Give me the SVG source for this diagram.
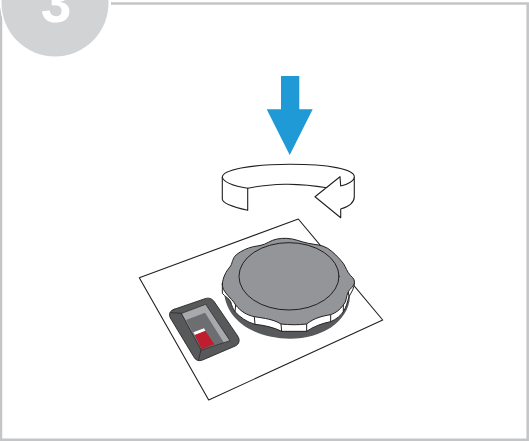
<svg xmlns="http://www.w3.org/2000/svg" width="529" height="441" viewBox="0 0 529 441">
<style>
.l{stroke:#231f20;stroke-linejoin:round;stroke-linecap:round}
.frame{stroke:#c4c5c7;fill:none}
</style>
<rect width="529" height="441" fill="#fff"/>
<g id="frame">
<path class="frame" stroke-width="2.5" d="M1 8V439.7H527.7V3.5H111"/>
</g>
<g id="step-badge">
<circle cx="55" cy="3" r="55" fill="#fff"/>
<circle cx="55" cy="3" r="53.5" fill="#d1d3d4"/>
<text x="56" y="22" text-anchor="middle" font-family="Liberation Sans, Arial, sans-serif" font-weight="700" font-size="55" fill="#fff">3</text>
</g>
<g id="press-arrow">
<path fill="#1f9ad6" d="M281 76H299.3V109.3H312.7L289.7 155L266.7 109.3H281Z"/>
</g>
<g id="turn-arrow">
<path class="l" fill="#fff" stroke-width="1.1" d="M222.3 177.3C222.3 170 250 164.3 290 164.3C328 164.3 354.3 169 354.3 176.7V196.7C354.3 202 349 206.5 340.7 209V217.7L315 196.7L340 176.7L340.7 186C347 185 354.3 181 354.3 176.7C354.3 181 347 185 340.7 186L340 176.7L326.7 187.7C312 185 300 184 285 184.2C270 184.5 258 186 247.7 188.3V210.3C233 207 222.3 203 222.3 199Z"/>
<path class="l" fill="none" stroke-width="1.1" d="M222.3 177.3C224 182.5 234 186 247.7 188.3"/>
</g>
<g id="panel">
<path class="l" fill="#fff" stroke-width="1.1" d="M139.3 277.7L298.3 219L382.7 320L208.7 400Z"/>
</g>
<g id="knob" transform="translate(215 230) scale(.33333)">
<path fill="#58595b" d="M28 195C40 280 130 326 225 326C320 326 400 275 405 200Z"/>
<path class="l" fill="#fff" stroke-width="3" d="M22 162V190C30 200 42 205 47 215C50 228 55 238 60 245C75 262 95 276 120 283C150 286 175 292 200 304H275C295 290 320 280 347 275C365 268 378 255 385 245C395 230 397 215 402 200C410 185 418 175 418 160Z"/>
<path class="l" fill="none" stroke-width="3" d="M62 225L60 245M118 260L120 283M198 282L200 304M275 282V304M347 254V275M385 225V245M400 185L402 200"/>
<path class="l" fill="#939598" stroke-width="3" d="M22 162C24 142 32 125 47 108C53 96 52 86 64 74C80 62 95 55 115 50C132 47 145 46 160 37C175 28 195 24 215 25C240 26 255 35 280 40C300 44 320 44 338 55C355 66 370 82 385 100C393 113 396 125 406 136C415 144 420 150 418 160C415 172 405 175 400 185C393 200 395 215 385 225C375 238 365 248 347 254C325 258 300 262 275 282C250 285 225 285 198 282C175 268 150 265 118 260C95 255 78 245 62 225C55 212 45 205 35 192C27 182 22 175 22 162Z"/>
<ellipse class="l" cx="222" cy="139" rx="150" ry="101" fill="none" stroke-width="3"/>
</g>
<g id="switch" transform="translate(160 290) scale(.33333)">
<path class="l" fill="#58595b" stroke-width="2.5" d="M42 58L135 26C146 22 156 26 162 34L233 138C241 150 238 162 226 168L128 210C116 215 106 210 101 200L31 84C25 72 30 62 42 58Z"/>
<path fill="#a7a9ac" d="M65 70L137 43L210 152L125 180Z"/>
<path fill="#6d6e71" d="M78 90L135 68L192 158L125 180Z"/>
<path fill="#fff" d="M100 127L132 115L137 124L105 136Z"/>
<path fill="#be1e2d" d="M104 135L136 122L163 163L125 178Z"/>
<path class="l" fill="none" stroke-width="2" d="M65 70L137 43L210 152L125 180ZM33 68L65 70M123 180L115 212"/>
</g>
</svg>
